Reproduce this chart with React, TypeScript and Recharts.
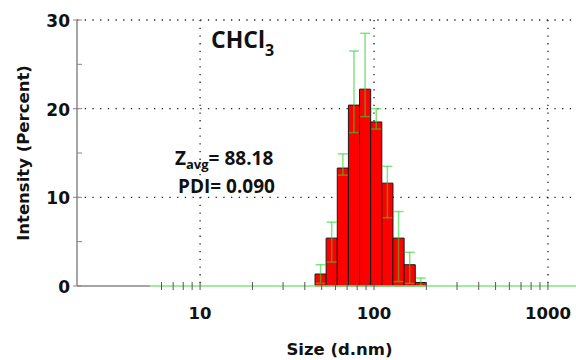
import React from "react";
import {
  ComposedChart,
  XAxis,
  YAxis,
  CartesianGrid,
  Scatter,
  ErrorBar,
  ReferenceArea,
} from "recharts";

// size classes (d.nm) and intensity (%)
const sizeBins = [49.3, 57.1, 66.2, 76.7, 88.9, 103, 119.4, 138.4, 160.4, 185.9];
const intensity = [1.35, 5.4, 13.3, 20.4, 22.2, 18.5, 11.6, 5.4, 2.4, 0.4];
const intensityHigh = [2.4, 7.2, 14.9, 26.5, 28.5, 20.0, 13.5, 8.4, 3.8, 0.9];
const intensityLow = [0.3, 2.7, 12.5, 17.3, 19.1, 17.7, 7.7, 0.5, 0.3, 0];

// bare axis part and flat part of the distribution curve
const axisSizes = [1.96, 5.16];
const baselineSizes = [5.16, 1450];

const xTicks = [
  6, 7, 8, 9, 10, 20, 30, 40, 50, 60, 70, 80, 90, 100, 200, 300, 400, 500,
  600, 700, 800, 900, 1000,
];
const xLabels = [10, 100, 1000];
const yTicks = [0, 5, 10, 15, 20, 25, 30];
const yLabels = [0, 10, 20, 30];

const FONT = "'DejaVu Sans', sans-serif";

const bins = sizeBins.map((size, i) => {
  const prev = i > 0 ? sizeBins[i - 1] : (size * size) / sizeBins[1];
  const next =
    i < sizeBins.length - 1
      ? sizeBins[i + 1]
      : (size * size) / sizeBins[i - 1];
  return {
    size,
    value: intensity[i],
    low: Math.sqrt(prev * size),
    high: Math.sqrt(size * next),
    err: [intensity[i] - intensityLow[i], intensityHigh[i] - intensity[i]],
  };
});

const axisPart = axisSizes.map((size) => ({ size, value: 0 }));
const baseline = baselineSizes.map((size) => ({ size, value: 0 }));

function XTick(props: any) {
  const { x, y, payload } = props;
  const major = xLabels.includes(payload.value);
  return (
    <g>
      <line x1={x} x2={x} y1={y - 4} y2={y + 4} stroke="#555" strokeWidth={1} />
      {major && (
        <text
          x={x}
          y={y + 33}
          textAnchor="middle"
          fontFamily={FONT}
          fontWeight="bold"
          fontSize={16.5}
          fill="#111"
        >
          {payload.value}
        </text>
      )}
    </g>
  );
}

function YTick(props: any) {
  const { x, y, payload } = props;
  const major = yLabels.includes(payload.value);
  return (
    <g>
      <line
        x1={major ? x - 4 : x}
        x2={x + 5}
        y1={y}
        y2={y}
        stroke="#888"
        strokeWidth={1}
      />
      {major && (
        <text
          x={x - 7}
          y={y + 7}
          textAnchor="end"
          fontFamily={FONT}
          fontWeight="bold"
          fontSize={17}
          fill="#111"
        >
          {payload.value}
        </text>
      )}
    </g>
  );
}

const hidden = () => <g />;

export default function App() {
  return (
    <div
      style={{
        position: "absolute",
        left: 0,
        top: 0,
        width: 576,
        height: 360,
        background: "#fff",
      }}
    >
      <ComposedChart
        width={576}
        height={360}
        margin={{ top: 20, right: 0, bottom: 0, left: 0 }}
      >
        <CartesianGrid
          horizontalValues={[10, 20, 30]}
          verticalValues={[10, 100, 1000]}
          stroke="#222"
          strokeWidth={1.3}
          strokeDasharray="1.3 6.4"
        />
        <XAxis
          dataKey="size"
          type="number"
          scale="log"
          domain={[1.96, 1450]}
          ticks={xTicks}
          interval={0}
          height={74}
          tick={<XTick />}
          tickLine={false}
          tickSize={0}
          tickMargin={0}
          axisLine={false}
          label={{
            value: "Size (d.nm)",
            position: "insideBottom",
            offset: 5,
            dx: 13,
            style: {
              fontFamily: FONT,
              fontWeight: "bold",
              fontSize: 16.5,
              fill: "#111",
            },
          }}
        />
        <YAxis
          dataKey="value"
          type="number"
          domain={[0, 30]}
          ticks={yTicks}
          interval={0}
          width={77}
          tick={<YTick />}
          tickLine={false}
          tickSize={0}
          tickMargin={0}
          axisLine={{ stroke: "#888", strokeWidth: 1.5 }}
          label={{
            value: "Intensity (Percent)",
            angle: -90,
            position: "insideLeft",
            offset: 23,
            style: {
              textAnchor: "middle",
              fontFamily: FONT,
              fontWeight: "bold",
              fontSize: 16.5,
              fill: "#111",
            },
          }}
        />
        {bins.map((b) => (
          <ReferenceArea
            key={b.size}
            x1={b.low}
            x2={b.high}
            y1={0}
            y2={b.value}
            fill="#ff0000"
            fillOpacity={1}
            stroke="#1a1a1a"
            strokeWidth={1}
          />
        ))}
        <Scatter
          data={axisPart}
          dataKey="value"
          line={{ stroke: "#888", strokeWidth: 1.5 }}
          lineType="joint"
          shape={hidden}
          isAnimationActive={false}
        />
        <Scatter
          data={baseline}
          dataKey="value"
          line={{ stroke: "#80e680", strokeWidth: 1.5 }}
          lineType="joint"
          shape={hidden}
          isAnimationActive={false}
        />
        <Scatter
          data={bins}
          dataKey="value"
          shape={hidden}
          isAnimationActive={false}
        >
          <ErrorBar
            dataKey="err"
            direction="y"
            width={5}
            stroke="#2fd42f"
            strokeOpacity={0.6}
            strokeWidth={1.5}
            isAnimationActive={false}
          />
        </Scatter>
      </ComposedChart>
      <svg
        width={576}
        height={360}
        style={{ position: "absolute", left: 0, top: 0, pointerEvents: "none" }}
        fontFamily="'Open Sans', sans-serif"
        fontWeight={700}
        fill="#111"
      >
        <text x={211} y={48} fontSize={23}>
          CHCl
          <tspan fontSize={16} dy={8}>
            3
          </tspan>
        </text>
        <text x={175} y={165} fontSize={19}>
          Z
          <tspan fontSize={13} dy={4}>
            avg
          </tspan>
          <tspan dy={-4}>= 88.18</tspan>
        </text>
        <text x={178} y={193} fontSize={19}>
          PDI= 0.090
        </text>
      </svg>
    </div>
  );
}
